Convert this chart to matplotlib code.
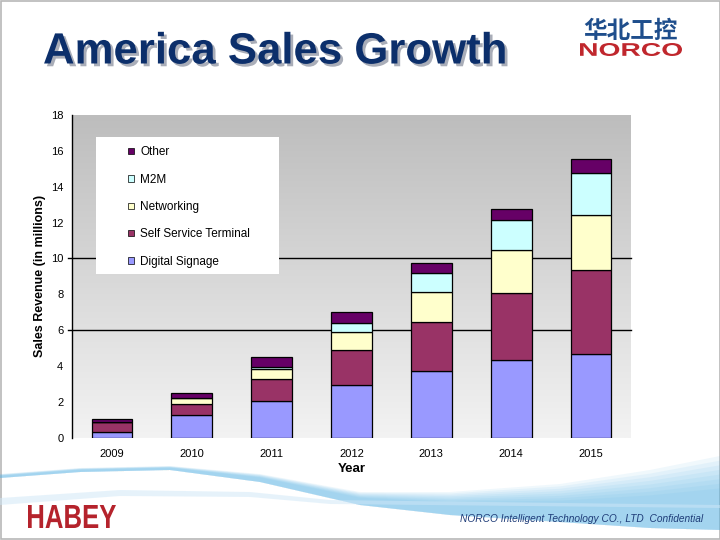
import numpy as np
import matplotlib
matplotlib.use("Agg")
import matplotlib.pyplot as plt
from matplotlib.patches import Patch, Rectangle, PathPatch
from matplotlib.textpath import TextPath
from matplotlib.font_manager import FontProperties
from matplotlib.transforms import Affine2D
from matplotlib.colors import LinearSegmentedColormap
import matplotlib.patheffects as pe

# ---------------- data ----------------
years = ["2009", "2010", "2011", "2012", "2013", "2014", "2015"]
digital_signage = [0.30, 1.25, 2.06, 2.94, 3.70, 4.32, 4.65]
self_service = [0.58, 0.61, 1.20, 1.93, 2.74, 3.73, 4.69]
networking = [0.00, 0.34, 0.55, 1.01, 1.67, 2.40, 3.06]
m2m = [0.00, 0.00, 0.12, 0.53, 1.06, 1.67, 2.35]
other = [0.15, 0.29, 0.57, 0.58, 0.56, 0.63, 0.78]
series_names = ["Digital Signage", "Self Service Terminal", "Networking", "M2M", "Other"]
series_colors = ["#9999ff", "#993366", "#ffffcc", "#ccffff", "#660066"]
yticks = [0, 2, 4, 6, 8, 10, 12, 14, 16, 18]
gridlines = [6, 10]

plt.rcParams['font.family'] = ['Liberation Sans', 'DejaVu Sans']

fig = plt.figure(figsize=(7.2, 5.4), dpi=100)
fig.patch.set_facecolor("white")

# ---------------- background decoration axes (pixel coords) ----------------
bg = fig.add_axes([0, 0, 1, 1], zorder=0)
bg.set_xlim(0, 720)
bg.set_ylim(540, 0)
bg.axis("off")

# slide frame
bg.add_patch(Rectangle((0.5, 0.5), 719, 538, fill=False, ec="#b8b8b8", lw=1.2))

# blue swoosh
xs = np.linspace(0, 720, 400)
def interp(px, py):
    return np.interp(xs, px, py)
up1 = interp([0, 80, 170, 260, 360, 450, 560, 650, 720], [474, 468, 466, 474, 492, 492, 484, 470, 456])
lo1 = interp([0, 80, 170, 260, 360, 450, 560, 650, 720], [478, 472, 470, 482, 505, 515, 522, 528, 530])
for k in range(8):
    t = k / 8.0
    u = up1 + (lo1 - up1) * t * 0.5
    bg.fill_between(xs, u, lo1, color="#5ab4e6", alpha=0.09, lw=0)
up2 = interp([0, 120, 250, 330, 720], [498, 490, 492, 500, 505])
lo2 = interp([0, 120, 250, 330, 720], [505, 496, 497, 504, 508])
bg.fill_between(xs, up2, lo2, color="#cfe7f7", alpha=0.5, lw=0)

def path_text(ax, s, x0, x1, y0, y1, color, prop):
    tp = TextPath((0, 0), s, size=10, prop=prop)
    bb = tp.get_extents()
    sx = (x1 - x0) / bb.width
    sy = (y1 - y0) / bb.height
    tr = Affine2D().translate(-bb.x0, -bb.y0).scale(sx, -sy).translate(x0, y1)
    ax.add_patch(PathPatch(tr.transform_path(tp), fc=color, ec="none", zorder=5))

bold = FontProperties(family="Liberation Sans", weight="bold")
path_text(bg, "NORCO", 580, 682, 43, 56, "#c0272d", bold)
path_text(bg, "HABEY", 28, 116, 505, 528, "#b5232c", bold)

# title with shadow
bg.text(43, 52, "America Sales Growth", fontsize=31.5, fontweight="bold",
        color="#0c2f6b", va="center", ha="left", zorder=5,
        path_effects=[pe.SimplePatchShadow(offset=(2, -2), shadow_rgbFace="#a9adb8", alpha=1.0),
                      pe.Normal()])

# chinese logo
bg.text(631, 31, "华北工控", fontsize=17, fontweight="bold", color="#1f4e8c",
        family=["Noto Sans CJK SC", "DejaVu Sans"], va="center", ha="center", zorder=5)

# footer
bg.text(703, 519, "NORCO Intelligent Technology CO., LTD  Confidential", fontsize=7.3,
        style="italic", color="#1e3c78", va="center", ha="right", zorder=5)

# ---------------- main chart ----------------
ax = fig.add_axes([72 / 720, 1 - 437.7 / 540, 559 / 720, 322.7 / 540], zorder=2)
ax.set_facecolor("none")

cmap = LinearSegmentedColormap.from_list("g", ["#f3f3f3", "#bdbdbd"])
grad = np.linspace(1, 0, 256)[:, None]
ax.imshow(grad, extent=(-0.5, 6.5, 0, 18), aspect="auto", cmap=cmap, origin="upper", zorder=0)

for g in gridlines:
    ax.axhline(g, xmin=-0.008, xmax=1, color="black", lw=1.0, zorder=1, clip_on=False)

x = np.arange(len(years))
bottom = np.zeros(len(years))
handles = []
for vals, name, col in zip([digital_signage, self_service, networking, m2m, other],
                           series_names, series_colors):
    vals = np.array(vals)
    ax.bar(x, vals, width=0.51, bottom=bottom, color=col, edgecolor="black",
           linewidth=0.9, zorder=3)
    bottom += vals
    handles.append(Patch(facecolor=col, edgecolor="black", linewidth=0.5, label=name))

ax.set_xlim(-0.5, 6.5)
ax.set_ylim(0, 18)
ax.set_xticks(x)
ax.set_xticklabels(years, fontsize=8)
ax.set_yticks(yticks)
ax.set_yticklabels([str(v) for v in yticks], fontsize=8)
ax.tick_params(axis="both", length=0)
ax.tick_params(axis="y", pad=6.3)
ax.tick_params(axis="x", pad=8)
for s in ["top", "right", "bottom"]:
    ax.spines[s].set_visible(False)
ax.spines["left"].set_color("black")
ax.spines["left"].set_linewidth(1.0)

ax.set_xlabel("Year", fontsize=9.5, fontweight="bold", labelpad=3)
ax.set_ylabel("Sales Revenue (in millions)", fontsize=9, fontweight="bold")
ax.yaxis.set_label_coords(-0.046, 0.5)

# legend box
ax.add_patch(Rectangle((0.043, 0.508), 0.327, 0.425, transform=ax.transAxes,
                       facecolor="white", edgecolor="none", zorder=4))
leg = ax.legend(handles=handles[::-1], loc="upper left", bbox_to_anchor=(0.090, 0.921),
                frameon=False, fontsize=8.5, borderpad=0, handlelength=0.45,
                handleheight=0.45, handletextpad=0.55, labelspacing=1.3)
leg.set_zorder(5)

fig.savefig("out.png", dpi=100, facecolor="white")
